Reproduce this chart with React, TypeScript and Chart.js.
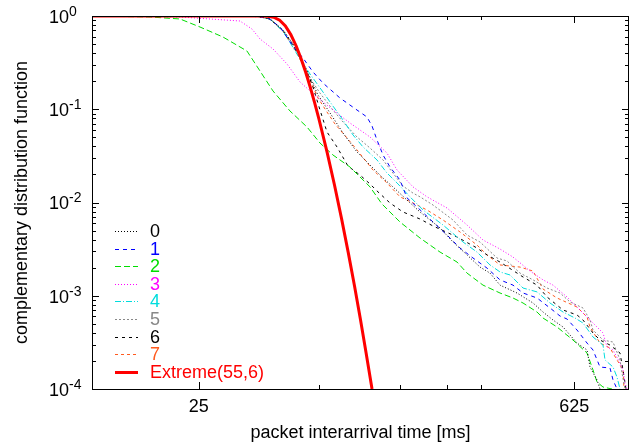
import React, { useEffect, useRef } from 'react';
import { Chart, registerables } from 'chart.js';

Chart.register(...registerables);

// ---- axis ranges and ticks ----
const xRange = [10, 1000];
const yRange = [1e-4, 1];
const xMajorTicks = [25, 625];
const xMajorLabels = ['25', '625'];
const xMinorTicks = [70, 140, 210, 280];
const yDecadeExponents = [0, -1, -2, -3, -4];
const xTitle = 'packet interarrival time [ms]';
const yTitle = 'complementary distribution function';

// ---- series data (x in ms, y = CCDF) ----
const s0X = [10, 40.46, 46.02, 51.44, 56.05, 61.07, 69.46, 77.0, 86.06, 97.05, 108.5, 121.3, 132.1, 149.0, 166.6, 197.8, 221.1, 249.3, 278.7, 303.6, 330.8, 382.8, 439.1, 478.4, 521.3, 568.0, 640.3, 697.7, 715.7, 760.0, 779.8];
const s0Y = [1, 1, 0.929, 0.708, 0.501, 0.321, 0.142, 0.0912, 0.0556, 0.0348, 0.0252, 0.0183, 0.0147, 0.01063, 0.00791, 0.00533, 0.00377, 0.00274, 0.00203, 0.00175, 0.0013, 0.00107, 0.000836, 0.000669, 0.000549, 0.000462, 0.000311, 0.000262, 0.000172, 0.000125, 0.0001];

const s1X = [10, 38.77, 45.24, 50.13, 56.05, 61.07, 66.55, 72.5, 83.87, 97.05, 105.7, 110.4, 115.2, 121.3, 128.8, 140.3, 149.0, 162.4, 186.2, 210.0, 234.8, 262.4, 295.9, 330.8, 369.8, 403.0, 454.4, 508.0, 553.5, 587.8, 640.3, 697.7, 734.4, 779.8, 849.7, 871.9, 902.3];
const s1Y = [1, 1, 0.952, 0.762, 0.477, 0.354, 0.251, 0.191, 0.132, 0.0981, 0.0826, 0.0661, 0.0468, 0.0323, 0.024, 0.0174, 0.0112, 0.00895, 0.00618, 0.00448, 0.00325, 0.00254, 0.00198, 0.00148, 0.0013, 0.00107, 0.000946, 0.000739, 0.000606, 0.000563, 0.000429, 0.000311, 0.000262, 0.000172, 0.000168, 0.000125, 0.0001];

const s2X = [10, 16.44, 21.27, 25.25, 30.75, 37.78, 42.24, 47.22, 54.62, 63.2, 70.67, 79.0, 91.39, 108.5, 120.2, 140.3, 166.6, 197.8, 228.8, 249.3, 285.9, 330.8, 369.8, 403.0, 454.4, 478.4, 539.5, 618.7, 697.7, 734.4, 760.0, 800.1, 864.4];
const s2Y = [1, 0.976, 0.929, 0.762, 0.595, 0.421, 0.257, 0.157, 0.0958, 0.0645, 0.0434, 0.0323, 0.024, 0.0147, 0.00964, 0.00618, 0.00416, 0.00294, 0.0023, 0.00175, 0.0013, 0.00107, 0.000946, 0.000836, 0.000669, 0.000577, 0.000462, 0.000335, 0.000243, 0.00016, 0.000119, 0.000105, 0.0001];

const s3X = [10, 21.27, 35.57, 39.44, 42.24, 47.22, 53.24, 59.52, 68.87, 79.0, 91.39, 108.5, 125.5, 136.8, 156.9, 176.9, 210.0, 249.3, 285.9, 330.8, 369.8, 427.9, 478.4, 521.3, 587.8, 640.3, 697.7, 760.0, 800.1, 828.1, 871.9, 925.8, 949.9, 966.3, 983.1];
const s3Y = [1, 0.976, 0.884, 0.725, 0.567, 0.443, 0.306, 0.196, 0.135, 0.0981, 0.0712, 0.0504, 0.0339, 0.0223, 0.0147, 0.0115, 0.00873, 0.00574, 0.00396, 0.00317, 0.0026, 0.00184, 0.00148, 0.0013, 0.00097, 0.000757, 0.000592, 0.000462, 0.000399, 0.000282, 0.000262, 0.00019, 0.00016, 0.000116, 0.0001];

const s4X = [10, 40.46, 46.02, 51.44, 58.01, 64.85, 72.5, 79.0, 86.06, 93.78, 102.2, 115.2, 125.5, 136.8, 152.9, 171.0, 202.9, 240.9, 271.6, 303.6, 330.8, 360.5, 403.0, 454.4, 508.0, 568.0, 629.5, 674.2, 734.4, 800.1, 814.0, 871.9, 902.3, 925.8];
const s4Y = [1, 1, 0.929, 0.69, 0.391, 0.239, 0.153, 0.108, 0.0767, 0.053, 0.0394, 0.0286, 0.0207, 0.0162, 0.0115, 0.00831, 0.00574, 0.00377, 0.00294, 0.00214, 0.0018, 0.00167, 0.00121, 0.0011, 0.000836, 0.000669, 0.000577, 0.00051, 0.000361, 0.000296, 0.000205, 0.000172, 0.000134, 0.0001];

const s5X = [10, 40.46, 46.02, 51.44, 56.05, 60.55, 64.85, 70.67, 79.0, 86.06, 97.05, 108.5, 121.3, 132.1, 144.0, 156.9, 166.6, 186.2, 221.1, 249.3, 278.7, 322.4, 351.3, 392.7, 439.1, 495.1, 553.5, 603.1, 674.2, 715.7, 734.4, 800.1, 871.9, 925.8, 941.8, 966.3];
const s5Y = [1, 1, 0.929, 0.708, 0.501, 0.321, 0.216, 0.149, 0.0981, 0.073, 0.0504, 0.0384, 0.0286, 0.0207, 0.015, 0.0126, 0.0115, 0.0094, 0.00649, 0.00448, 0.00377, 0.00254, 0.00236, 0.00175, 0.00148, 0.00121, 0.00107, 0.000857, 0.000739, 0.000549, 0.000429, 0.000335, 0.000319, 0.000205, 0.000148, 0.0001];

const s6X = [10, 40.46, 46.02, 51.44, 56.05, 61.07, 65.98, 70.67, 75.03, 81.75, 89.83, 99.57, 108.5, 115.2, 128.8, 144.0, 166.6, 186.2, 228.8, 271.6, 295.9, 330.8, 403.0, 454.4, 495.1, 568.0, 640.3, 674.2, 734.4, 779.8, 849.7, 925.8, 949.9, 974.6];
const s6Y = [1, 1, 0.929, 0.69, 0.489, 0.306, 0.187, 0.0981, 0.057, 0.0394, 0.0246, 0.0197, 0.0158, 0.0133, 0.00988, 0.00791, 0.00665, 0.0056, 0.00427, 0.00325, 0.00274, 0.0023, 0.00159, 0.0013, 0.00097, 0.000703, 0.000622, 0.000549, 0.000399, 0.000335, 0.000296, 0.000243, 0.00016, 0.0001];

const s7X = [10, 40.46, 46.02, 51.44, 57.02, 61.07, 64.85, 69.46, 75.03, 80.35, 89.07, 97.05, 111.3, 125.5, 140.3, 156.9, 176.9, 202.9, 234.8, 271.6, 295.9, 330.8, 392.7, 439.1, 478.4, 539.5, 640.3, 697.7, 715.7, 779.8, 849.7, 902.3, 949.9, 958.1];
const s7Y = [1, 1, 0.929, 0.69, 0.432, 0.298, 0.206, 0.132, 0.0934, 0.0695, 0.0492, 0.0366, 0.0223, 0.0162, 0.0115, 0.00988, 0.00831, 0.00649, 0.00483, 0.0035, 0.00274, 0.00214, 0.00203, 0.00184, 0.00118, 0.000946, 0.000757, 0.000592, 0.000462, 0.000311, 0.000275, 0.000205, 0.00016, 0.0001];

const extremeX = [10, 40, 42.5, 45, 47.5, 50, 52.5, 55, 57.5, 60, 62.5, 65, 67.5, 70, 75, 80, 85, 90, 95, 100, 105, 110.4];
const extremeY = [1, 1, 0.9997, 0.995, 0.97, 0.9, 0.781, 0.632, 0.483, 0.352, 0.249, 0.172, 0.117, 0.0788, 0.0351, 0.0154, 0.00672, 0.00292, 0.00127, 0.000553, 0.00024, 0.0001];

const seriesLabels = ['0', '1', '2', '3', '4', '5', '6', '7', 'Extreme(55,6)'];
const seriesX = [s0X, s1X, s2X, s3X, s4X, s5X, s6X, s7X, extremeX];
const seriesY = [s0Y, s1Y, s2Y, s3Y, s4Y, s5Y, s6Y, s7Y, extremeY];
const seriesColors = ['#000000', '#0000ff', '#00dd00', '#ff00ff', '#00dddd', '#888888', '#000000', '#ff5a1e', '#ff0000'];
const seriesDash = [[1, 2], [4, 4], [6, 3], [1, 2], [6, 2, 1, 2], [2, 2], [3, 4], [3, 3], []];
const seriesWidth = [1, 1, 1, 1, 1, 1, 1, 1, 3];

const FONT = '"Liberation Sans", Arial, Helvetica, sans-serif';

const axesPlugin = {
  id: 'gnuplotAxes',
  afterDraw(chart: any) {
    const { ctx, chartArea } = chart;
    const { left, right, top, bottom } = chartArea;
    const xs = chart.scales.x;
    const ys = chart.scales.y;
    ctx.save();
    ctx.strokeStyle = '#000';
    ctx.lineWidth = 1;
    // frame
    ctx.strokeRect(left + 0.5, top + 0.5, right - left - 1, bottom - top);
    // y ticks
    ctx.beginPath();
    yDecadeExponents.forEach((e) => {
      const py = Math.round(ys.getPixelForValue(Math.pow(10, e))) + 0.5;
      ctx.moveTo(left, py); ctx.lineTo(left + 7, py);
      ctx.moveTo(right, py); ctx.lineTo(right - 7, py);
      if (e < 0) {
        for (let m = 2; m <= 9; m++) {
          const pm = Math.round(ys.getPixelForValue(m * Math.pow(10, e))) + 0.5;
          ctx.moveTo(left, pm); ctx.lineTo(left + 4, pm);
          ctx.moveTo(right, pm); ctx.lineTo(right - 4, pm);
        }
      }
    });
    // x ticks
    xMajorTicks.forEach((v) => {
      const px = Math.round(xs.getPixelForValue(v)) + 0.5;
      ctx.moveTo(px, bottom); ctx.lineTo(px, bottom - 7);
      ctx.moveTo(px, top); ctx.lineTo(px, top + 7);
    });
    xMinorTicks.forEach((v) => {
      const px = Math.round(xs.getPixelForValue(v)) + 0.5;
      ctx.moveTo(px, bottom); ctx.lineTo(px, bottom - 4);
      ctx.moveTo(px, top); ctx.lineTo(px, top + 4);
    });
    ctx.stroke();

    // y tick labels 10^e
    ctx.fillStyle = '#000';
    ctx.textBaseline = 'middle';
    yDecadeExponents.forEach((e) => {
      const py = ys.getPixelForValue(Math.pow(10, e));
      ctx.font = `18px ${FONT}`;
      ctx.textAlign = 'left';
      const bx = 49;
      ctx.fillText('10', bx, py + 2);
      const w = ctx.measureText('10').width;
      ctx.font = `14px ${FONT}`;
      ctx.fillText(String(e), bx + w, py - 4);
    });
    // x tick labels
    ctx.font = `18px ${FONT}`;
    ctx.textAlign = 'center';
    xMajorTicks.forEach((v, i) => {
      ctx.fillText(xMajorLabels[i], xs.getPixelForValue(v), 407);
    });
    // titles
    ctx.fillText(xTitle, (left + right) / 2, 433);
    ctx.save();
    ctx.translate(22, (top + bottom) / 2);
    ctx.rotate(-Math.PI / 2);
    ctx.fillText(yTitle, 0, 0);
    ctx.restore();

    // legend
    ctx.textAlign = 'left';
    seriesLabels.forEach((lab, i) => {
      const ly = 231 + i * 17.6;
      ctx.save();
      ctx.strokeStyle = seriesColors[i];
      ctx.lineWidth = seriesWidth[i];
      ctx.setLineDash(seriesDash[i]);
      ctx.beginPath();
      ctx.moveTo(115, Math.round(ly) + 0.5);
      ctx.lineTo(138, Math.round(ly) + 0.5);
      ctx.stroke();
      ctx.restore();
      ctx.fillStyle = seriesColors[i];
      ctx.fillText(lab, 150, ly + 1);
    });
    ctx.restore();
  },
};

export default function App() {
  const ref = useRef<HTMLCanvasElement>(null);
  useEffect(() => {
    const datasets = seriesLabels.map((lab, i) => ({
      label: lab,
      data: seriesX[i].map((x, k) => ({ x, y: seriesY[i][k] })),
      borderColor: seriesColors[i],
      backgroundColor: seriesColors[i],
      borderWidth: seriesWidth[i],
      borderDash: seriesDash[i],
      pointRadius: 0,
      fill: false,
      tension: 0,
      order: i === 8 ? 0 : 1,
    }));
    const chart = new Chart(ref.current as HTMLCanvasElement, {
      type: 'line',
      data: { datasets },
      options: {
        responsive: false,
        animation: false,
        devicePixelRatio: 1,
        layout: { padding: { left: 92, top: 16, right: 10, bottom: 56 } },
        plugins: { legend: { display: false }, tooltip: { enabled: false } },
        scales: {
          x: { type: 'logarithmic', min: xRange[0], max: xRange[1], display: false },
          y: { type: 'logarithmic', min: yRange[0], max: yRange[1], display: false },
        },
      },
      plugins: [axesPlugin],
    } as any);
    return () => chart.destroy();
  }, []);
  return (
    <div style={{ position: 'absolute', left: 0, top: 0, width: 639, height: 445, background: '#fff' }}>
      <canvas ref={ref} width={639} height={445} style={{ display: 'block', width: 639, height: 445 }} />
    </div>
  );
}
